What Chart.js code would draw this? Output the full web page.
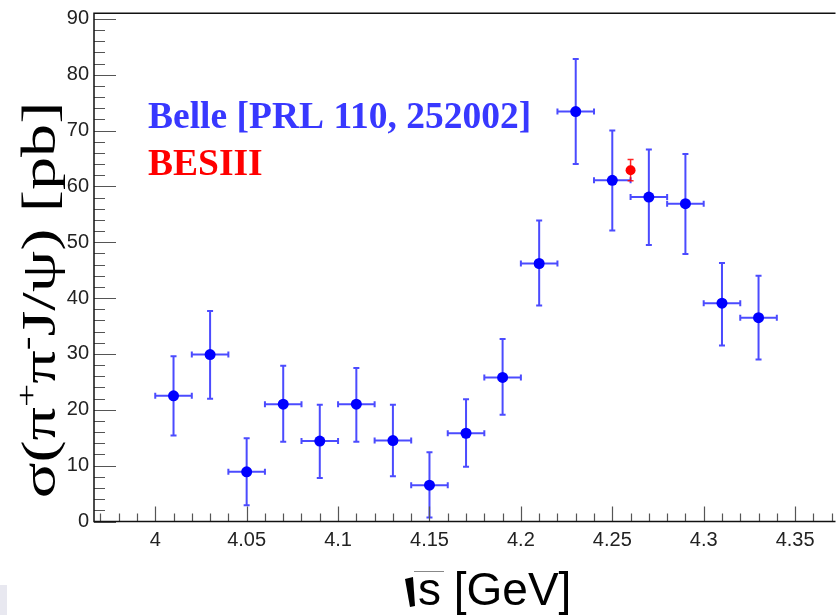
<!DOCTYPE html>
<html>
<head>
<meta charset="utf-8">
<script src="https://cdn.jsdelivr.net/npm/chart.js@4.4.1/dist/chart.umd.min.js"></script>
<style>
  html, body { margin: 0; padding: 0; background: #ffffff; }
  #wrap { width: 839px; height: 615px; position: relative; }
</style>
</head>
<body>
<div id="wrap"><canvas id="xsecChart" width="839" height="615"></canvas></div>
<script>
// Belle points: sqrt(s) in GeV, cross section and asymmetric errors in pb
const belleEnergy = [4.01, 4.03, 4.05, 4.07, 4.09, 4.11, 4.13, 4.15, 4.17, 4.19, 4.21, 4.23, 4.25, 4.27, 4.29, 4.31, 4.33];
const belleXsec   = [22.5, 29.9, 8.9, 21.0, 14.4, 21.0, 14.5, 6.5, 15.8, 25.8, 46.2, 73.4, 61.1, 58.1, 56.9, 39.1, 36.5];
const belleErrUp  = [7.1, 7.8, 6.0, 6.9, 6.5, 6.5, 6.4, 5.9, 6.1, 6.9, 7.7, 9.4, 8.9, 8.5, 8.9, 7.2, 7.5];
const belleErrDn  = [7.1, 7.9, 6.0, 6.7, 6.6, 6.7, 6.4, 5.8, 6.0, 6.7, 7.5, 9.4, 9.0, 8.6, 9.0, 7.6, 7.5];
const belleBinHalf = 0.01;

// BESIII point
const besEnergy = [4.26];
const besXsec   = [62.9];
const besErrUp  = [1.9];
const besErrDn  = [1.9];

// axis ticks
const xTickValues = [4.00, 4.05, 4.10, 4.15, 4.20, 4.25, 4.30, 4.35];
const xTickLabels = ['4', '4.05', '4.1', '4.15', '4.2', '4.25', '4.3', '4.35'];
const yTickValues = [0, 10, 20, 30, 40, 50, 60, 70, 80, 90];

const X_MIN = 3.9665, X_MAX = 4.371;
const Y_MIN = 0, Y_MAX = 91;

function toPoints(xs, ys) {
    return xs.map((x, i) => ({ x: x, y: ys[i] }));
}

// error bars with small end caps, drawn under the markers
const errorBars = {
    id: 'errorBars',
    beforeDatasetsDraw(chart) {
        const ctx = chart.ctx;
        const xs = chart.scales.x, ys = chart.scales.y;
        const cap = 3;
        function vbar(x, lo, hi, color, w) {
            const px = xs.getPixelForValue(x);
            const p1 = ys.getPixelForValue(lo), p2 = ys.getPixelForValue(hi);
            ctx.strokeStyle = color;
            ctx.lineWidth = w;
            ctx.beginPath();
            ctx.moveTo(px, p1); ctx.lineTo(px, p2);
            ctx.moveTo(px - cap, p1); ctx.lineTo(px + cap, p1);
            ctx.moveTo(px - cap, p2); ctx.lineTo(px + cap, p2);
            ctx.stroke();
        }
        function hbar(lo, hi, y, color, w) {
            const py = ys.getPixelForValue(y);
            const p1 = xs.getPixelForValue(lo), p2 = xs.getPixelForValue(hi);
            ctx.strokeStyle = color;
            ctx.lineWidth = w;
            ctx.beginPath();
            ctx.moveTo(p1, py); ctx.lineTo(p2, py);
            ctx.moveTo(p1, py - cap); ctx.lineTo(p1, py + cap);
            ctx.moveTo(p2, py - cap); ctx.lineTo(p2, py + cap);
            ctx.stroke();
        }
        ctx.save();
        belleEnergy.forEach((e, i) => {
            const v = belleXsec[i];
            vbar(e, v - belleErrDn[i], v + belleErrUp[i], 'rgba(30,30,255,0.8)', 2);
            hbar(e - belleBinHalf, e + belleBinHalf, v, 'rgba(30,30,255,0.8)', 2);
        });
        besEnergy.forEach((e, i) => {
            const v = besXsec[i];
            vbar(e, v - besErrDn[i], v + besErrUp[i], 'rgba(255,0,0,0.85)', 1.5);
        });
        ctx.restore();
    }
};

// ROOT-style frame with ticks pointing inwards, titles and the text legend
const frameAndTitles = {
    id: 'frameAndTitles',
    afterDraw(chart) {
        const ctx = chart.ctx;
        const a = chart.chartArea;
        const xs = chart.scales.x, ys = chart.scales.y;
        ctx.save();

        // y ticks: major every 10, minor every 2
        ctx.strokeStyle = '#555';
        ctx.lineWidth = 1.2;
        ctx.beginPath();
        for (let v = Y_MIN; v <= 90.001; v += 2) {
            const py = Math.round(ys.getPixelForValue(v)) + 0.5;
            const len = (Math.round(v) % 10 === 0) ? 22 : 11;
            ctx.moveTo(a.left, py); ctx.lineTo(a.left + len, py);
        }
        // x ticks: major every 0.05, minor every 0.01
        for (let k = 397; k <= 437; k++) {
            const v = k / 100;
            const px = Math.round(xs.getPixelForValue(v)) + 0.5;
            const len = (k % 5 === 0) ? 15 : 8;
            ctx.moveTo(px, a.bottom); ctx.lineTo(px, a.bottom - len);
        }
        ctx.stroke();

        // frame
        ctx.strokeStyle = '#111';
        ctx.lineWidth = 1.5;
        ctx.beginPath();
        ctx.moveTo(a.right + 2, a.top); ctx.lineTo(a.left, a.top);
        ctx.lineTo(a.left, a.bottom); ctx.lineTo(a.right + 2, a.bottom);
        ctx.stroke();

        // legend text
        ctx.textAlign = 'left';
        ctx.textBaseline = 'alphabetic';
        ctx.font = 'bold 37.5px "Liberation Serif", "Times New Roman", serif';
        ctx.fillStyle = '#3838ff';
        ctx.fillText('Belle [PRL 110, 252002]', 148, 128);
        ctx.fillStyle = '#ff0000';
        ctx.fillText('BESIII', 148, 175);

        // y title, rotated and widened along the text, with superscript charges
        const big = '48px "Liberation Serif", "Times New Roman", serif';
        const small = '30px "Liberation Serif", "Times New Roman", serif';
        const stretch = 1.38;
        const parts = [
            { t: '\u03c3(\u03c0', f: big, dy: 0 },
            { t: '+', f: small, dy: -19 },
            { t: '\u03c0', f: big, dy: 0 },
            { t: '-', f: small, dy: -19 },
            { t: 'J/\u03c8) [pb]', f: big, dy: 0 }
        ];
        let total = 0;
        parts.forEach(p => { ctx.font = p.f; p.w = ctx.measureText(p.t).width; total += p.w; });
        ctx.translate(55, 300);
        ctx.rotate(-Math.PI / 2);
        ctx.scale(stretch, 1);
        ctx.fillStyle = '#000';
        let cx = -total / 2;
        parts.forEach(p => {
            ctx.font = p.f;
            ctx.fillText(p.t, cx, p.dy);
            cx += p.w;
        });
        ctx.setTransform(1, 0, 0, 1, 0, 0);

        // x title: square root sign then "s [GeV]"
        ctx.fillStyle = '#000';
        ctx.beginPath();
        ctx.moveTo(405, 579); ctx.lineTo(413, 577); ctx.lineTo(415, 606); ctx.lineTo(410, 607);
        ctx.closePath();
        ctx.fill();
        ctx.strokeStyle = '#888';
        ctx.lineWidth = 1;
        ctx.beginPath();
        ctx.moveTo(414, 571.5); ctx.lineTo(444, 571.5);
        ctx.stroke();
        ctx.font = '46px "Liberation Sans", Arial, sans-serif';
        ctx.fillText('s [GeV]', 418, 605);

        // small grey patch in the lower left corner
        ctx.fillStyle = '#e8e8f0';
        ctx.fillRect(0, 585, 7, 30);
        ctx.restore();
    }
};

const tickFont = { family: '"Liberation Sans", Arial, sans-serif', size: 20 };

new Chart(document.getElementById('xsecChart'), {
    type: 'scatter',
    data: {
        datasets: [
            {
                label: 'Belle',
                data: toPoints(belleEnergy, belleXsec),
                backgroundColor: '#0000ff',
                borderWidth: 0,
                pointRadius: 5.5,
                pointHoverRadius: 5.5
            },
            {
                label: 'BESIII',
                data: toPoints(besEnergy, besXsec),
                backgroundColor: '#ff0000',
                borderWidth: 0,
                pointRadius: 5,
                pointHoverRadius: 5
            }
        ]
    },
    options: {
        responsive: false,
        animation: false,
        layout: { padding: { top: 13.3, right: 0, bottom: 0, left: 0 } },
        plugins: {
            legend: { display: false },
            tooltip: { enabled: false }
        },
        scales: {
            x: {
                type: 'linear',
                min: X_MIN,
                max: X_MAX,
                afterBuildTicks: s => { s.ticks = xTickValues.map(v => ({ value: v })); },
                afterFit: s => { s.height = 93.5; s.paddingLeft = 0; s.paddingRight = 0; },
                grid: { display: false, drawTicks: false },
                border: { display: false },
                ticks: {
                    font: tickFont,
                    color: '#222',
                    padding: 7,
                    maxRotation: 0,
                    autoSkip: false,
                    callback: (v) => {
                        const i = xTickValues.findIndex(t => Math.abs(t - v) < 1e-6);
                        return i >= 0 ? xTickLabels[i] : '';
                    }
                }
            },
            y: {
                type: 'linear',
                min: Y_MIN,
                max: Y_MAX,
                afterBuildTicks: s => { s.ticks = yTickValues.map(v => ({ value: v })); },
                afterFit: s => { s.width = 94; s.paddingTop = 0; s.paddingBottom = 0; },
                grid: { display: false, drawTicks: false },
                border: { display: false },
                ticks: {
                    font: tickFont,
                    color: '#222',
                    padding: 5,
                    autoSkip: false
                }
            }
        }
    },
    plugins: [errorBars, frameAndTitles]
});
</script>
</body>
</html>
